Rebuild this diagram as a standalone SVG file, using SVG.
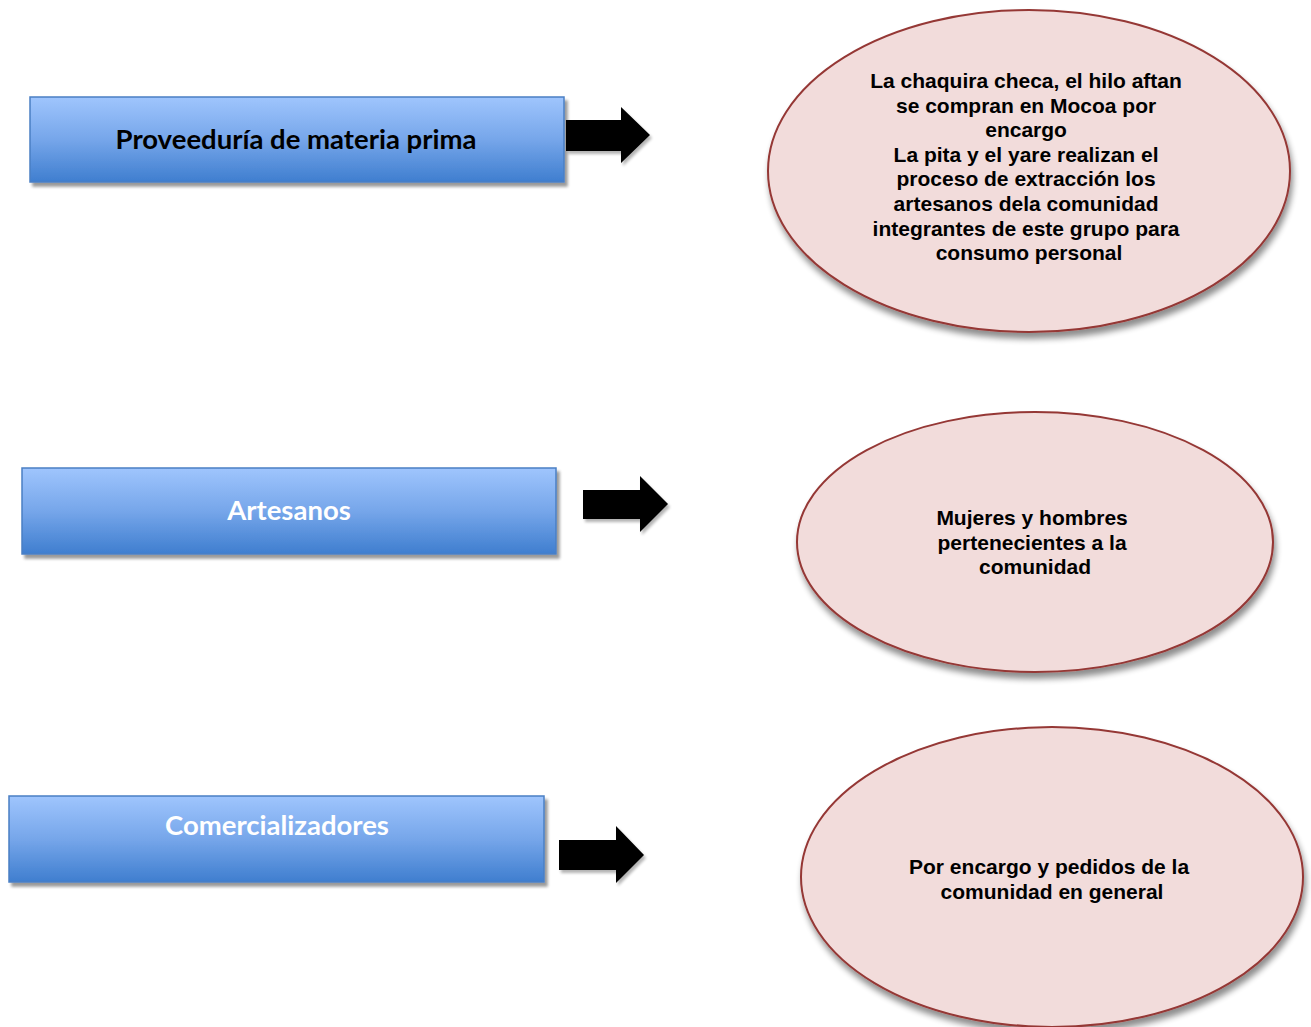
<svg xmlns="http://www.w3.org/2000/svg" width="1311" height="1027" viewBox="0 0 1311 1027">
<defs>
  <linearGradient id="blueGrad" x1="0" y1="0" x2="0" y2="1">
    <stop offset="0" stop-color="#9fc5fd"/>
    <stop offset="0.5" stop-color="#76a6ea"/>
    <stop offset="1" stop-color="#3f7ecf"/>
  </linearGradient>
  <filter id="boxShadow" x="-5%" y="-20%" width="115%" height="150%">
    <feGaussianBlur in="SourceAlpha" stdDeviation="1.5"/>
    <feOffset dx="3" dy="4" result="b"/>
    <feComponentTransfer><feFuncA type="linear" slope="0.4"/></feComponentTransfer>
    <feMerge><feMergeNode/><feMergeNode in="SourceGraphic"/></feMerge>
  </filter>
  <filter id="ellShadow" x="-10%" y="-10%" width="125%" height="125%">
    <feGaussianBlur in="SourceAlpha" stdDeviation="3"/>
    <feOffset dx="2" dy="6" result="b"/>
    <feComponentTransfer><feFuncA type="linear" slope="0.45"/></feComponentTransfer>
    <feMerge><feMergeNode/><feMergeNode in="SourceGraphic"/></feMerge>
  </filter>
  <filter id="arrShadow" x="-20%" y="-20%" width="150%" height="150%">
    <feGaussianBlur in="SourceAlpha" stdDeviation="1.5"/>
    <feOffset dx="2" dy="3" result="b"/>
    <feComponentTransfer><feFuncA type="linear" slope="0.3"/></feComponentTransfer>
    <feMerge><feMergeNode/><feMergeNode in="SourceGraphic"/></feMerge>
  </filter>
</defs>
<style>
  .box { fill: url(#blueGrad); stroke: #4a7fc4; stroke-width: 1.5; filter: url(#boxShadow); }
  .boxtxt { font-family: Lato, "Open Sans", sans-serif; font-weight: bold; font-size: 27.5px; text-anchor: middle; }
  .ell { fill: #f2dcdb; stroke: #953735; stroke-width: 2; filter: url(#ellShadow); }
  .elltxt { font-family: "Liberation Sans", Arial, sans-serif; font-weight: bold; font-size: 21px; text-anchor: middle; fill: #000; }
  .arrow { fill: #000; filter: url(#arrShadow); }
</style>
<rect width="1311" height="1027" fill="#ffffff"/>

<g id="node-proveeduria">
  <rect class="box" x="30" y="97" width="534" height="85"/>
  <text class="boxtxt" x="296" y="149" fill="#000">Proveeduría de materia prima</text>
</g>
<g id="node-artesanos">
  <rect class="box" x="22" y="468" width="534" height="86"/>
  <text class="boxtxt" x="289" y="520" fill="#fff">Artesanos</text>
</g>
<g id="node-comercializadores">
  <rect class="box" x="9" y="796" width="535" height="86"/>
  <text class="boxtxt" x="277" y="835" fill="#fff">Comercializadores</text>
</g>

<g id="node-materia-desc">
  <ellipse class="ell" cx="1029" cy="171" rx="261" ry="161"/>
  <text class="elltxt">
    <tspan x="1029" y="88">La chaquira checa, el hilo aftan</tspan>
    <tspan x="1029" y="112.6">se compran en Mocoa por</tspan>
    <tspan x="1029" y="137.2">encargo</tspan>
    <tspan x="1029" y="161.8">La pita y el yare realizan el</tspan>
    <tspan x="1029" y="186.4">proceso de extracción los</tspan>
    <tspan x="1029" y="211">artesanos dela comunidad</tspan>
    <tspan x="1029" y="235.6">integrantes de este grupo para</tspan>
    <tspan x="1029" y="260.2">consumo personal</tspan>
  </text>
</g>
<g id="node-artesanos-desc">
  <ellipse class="ell" cx="1035" cy="542" rx="238" ry="130"/>
  <text class="elltxt">
    <tspan x="1035" y="525">Mujeres y hombres</tspan>
    <tspan x="1035" y="549.6">pertenecientes a la</tspan>
    <tspan x="1035" y="574.2">comunidad</tspan>
  </text>
</g>
<g id="node-comercializadores-desc">
  <ellipse class="ell" cx="1052" cy="877" rx="251" ry="150"/>
  <text class="elltxt">
    <tspan x="1052" y="874">Por encargo y pedidos de la</tspan>
    <tspan x="1052" y="898.6">comunidad en general</tspan>
  </text>
</g>

<g id="connectors">
  <polygon class="arrow" points="566,120 621,120 621,107 650,135 621,163 621,151 566,151"/>
  <polygon class="arrow" points="583,490 640,490 640,476 668,504 640,532 640,519 583,519"/>
  <polygon class="arrow" points="559,840 616,840 616,826 644,855 616,883 616,870 559,870"/>
</g>
</svg>
